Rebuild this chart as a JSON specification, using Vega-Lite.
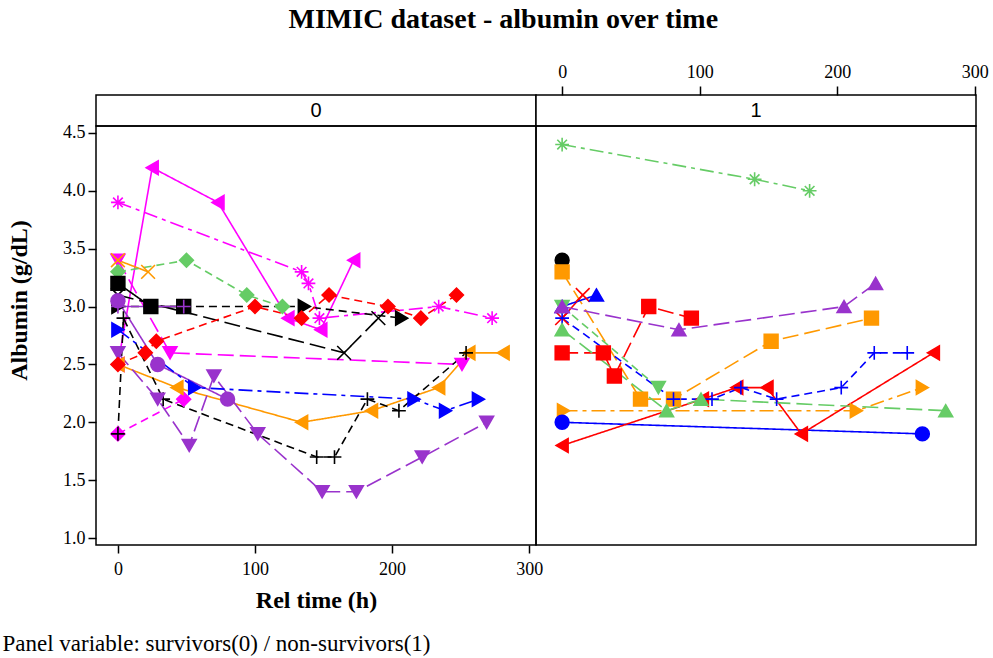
{
  "$schema": "https://vega.github.io/schema/vega-lite/v6.json",
  "background": "white",
  "padding": {"left": 1, "top": 6, "right": 5, "bottom": 5},
  "title": {"text": "MIMIC dataset - albumin over time", "font": "Liberation Serif", "fontSize": 28, "fontWeight": "bold", "color": "#000", "anchor": "middle", "offset": 28, "dx": 8},
  "datasets": {
    "panels": [{"p": "0"}, {"p": "1"}],
    "d": [
      {"p":"0","id":"s01","t":0,"alb":2.5},{"p":"0","id":"s01","t":25,"alb":4.2},{"p":"0","id":"s01","t":73,"alb":3.9},{"p":"0","id":"s01","t":124,"alb":2.9},{"p":"0","id":"s01","t":148,"alb":2.8},{"p":"0","id":"s01","t":172,"alb":3.4},
      {"p":"0","id":"s02","t":0,"alb":3.4},{"p":"0","id":"s02","t":38,"alb":2.6},{"p":"0","id":"s02","t":251,"alb":2.5},
      {"p":"0","id":"s03","t":0,"alb":3.9},{"p":"0","id":"s03","t":134,"alb":3.3},{"p":"0","id":"s03","t":139,"alb":3.2},{"p":"0","id":"s03","t":147,"alb":2.9},{"p":"0","id":"s03","t":234,"alb":3.0},{"p":"0","id":"s03","t":273,"alb":2.9},
      {"p":"0","id":"s04","t":0,"alb":1.9},{"p":"0","id":"s04","t":48,"alb":2.2},
      {"p":"0","id":"s05","t":0,"alb":2.5},{"p":"0","id":"s05","t":43,"alb":2.3},{"p":"0","id":"s05","t":134,"alb":2.0},{"p":"0","id":"s05","t":185,"alb":2.1},{"p":"0","id":"s05","t":234,"alb":2.3},{"p":"0","id":"s05","t":256,"alb":2.6},{"p":"0","id":"s05","t":281,"alb":2.6},
      {"p":"0","id":"s06","t":0,"alb":3.4},{"p":"0","id":"s06","t":22,"alb":3.3},
      {"p":"0","id":"s07","t":0,"alb":3.3},{"p":"0","id":"s07","t":50,"alb":3.4},{"p":"0","id":"s07","t":94,"alb":3.1},{"p":"0","id":"s07","t":120,"alb":3.0},
      {"p":"0","id":"s08","t":0,"alb":3.2},{"p":"0","id":"s08","t":24,"alb":3.0},{"p":"0","id":"s08","t":48,"alb":3.0},
      {"p":"0","id":"s09","t":0,"alb":3.1},{"p":"0","id":"s09","t":165,"alb":2.6},{"p":"0","id":"s09","t":190,"alb":2.9},
      {"p":"0","id":"s10","t":0,"alb":3.0},{"p":"0","id":"s10","t":136,"alb":3.0},{"p":"0","id":"s10","t":207,"alb":2.9},
      {"p":"0","id":"s11","t":0,"alb":1.9},{"p":"0","id":"s11","t":4,"alb":2.9},{"p":"0","id":"s11","t":33,"alb":2.2},{"p":"0","id":"s11","t":145,"alb":1.7},{"p":"0","id":"s11","t":158,"alb":1.7},{"p":"0","id":"s11","t":182,"alb":2.2},{"p":"0","id":"s11","t":205,"alb":2.1},{"p":"0","id":"s11","t":254,"alb":2.6},
      {"p":"0","id":"s12","t":0,"alb":2.6},{"p":"0","id":"s12","t":29,"alb":2.2},{"p":"0","id":"s12","t":52,"alb":1.8},{"p":"0","id":"s12","t":70,"alb":2.4},{"p":"0","id":"s12","t":102,"alb":1.9},{"p":"0","id":"s12","t":149,"alb":1.4},{"p":"0","id":"s12","t":174,"alb":1.4},{"p":"0","id":"s12","t":222,"alb":1.7},{"p":"0","id":"s12","t":269,"alb":2.0},
      {"p":"0","id":"s13","t":0,"alb":3.05},{"p":"0","id":"s13","t":29,"alb":2.5},{"p":"0","id":"s13","t":80,"alb":2.2},
      {"p":"0","id":"s14","t":0,"alb":3.0},{"p":"0","id":"s14","t":48,"alb":3.0},
      {"p":"0","id":"s15","t":0,"alb":2.8},{"p":"0","id":"s15","t":56,"alb":2.3},{"p":"0","id":"s15","t":216,"alb":2.2},{"p":"0","id":"s15","t":239,"alb":2.1},{"p":"0","id":"s15","t":263,"alb":2.2},
      {"p":"0","id":"s16","t":0,"alb":2.5},{"p":"0","id":"s16","t":20,"alb":2.6},{"p":"0","id":"s16","t":28,"alb":2.7},{"p":"0","id":"s16","t":100,"alb":3.0},{"p":"0","id":"s16","t":134,"alb":2.9},{"p":"0","id":"s16","t":154,"alb":3.1},{"p":"0","id":"s16","t":197,"alb":3.0},{"p":"0","id":"s16","t":221,"alb":2.9},{"p":"0","id":"s16","t":247,"alb":3.1},
      {"p":"1","id":"t01","t":0,"alb":4.4},{"p":"1","id":"t01","t":140,"alb":4.1},{"p":"1","id":"t01","t":180,"alb":4.0},
      {"p":"1","id":"t02","t":0,"alb":3.4},
      {"p":"1","id":"t03","t":0,"alb":3.3},{"p":"1","id":"t03","t":57,"alb":2.2},{"p":"1","id":"t03","t":81,"alb":2.2},{"p":"1","id":"t03","t":152,"alb":2.7},{"p":"1","id":"t03","t":225,"alb":2.9},
      {"p":"1","id":"t04","t":1,"alb":2.1},{"p":"1","id":"t04","t":214,"alb":2.1},{"p":"1","id":"t04","t":262,"alb":2.3},
      {"p":"1","id":"t05","t":0,"alb":2.0},{"p":"1","id":"t05","t":262,"alb":1.9},
      {"p":"1","id":"t06","t":0,"alb":1.8},{"p":"1","id":"t06","t":102,"alb":2.2},{"p":"1","id":"t06","t":127,"alb":2.3},{"p":"1","id":"t06","t":149,"alb":2.3},{"p":"1","id":"t06","t":174,"alb":1.9},{"p":"1","id":"t06","t":270,"alb":2.6},
      {"p":"1","id":"t07","t":0,"alb":2.9},{"p":"1","id":"t07","t":15,"alb":3.1},
      {"p":"1","id":"t08","t":0,"alb":2.6},{"p":"1","id":"t08","t":30,"alb":2.6},{"p":"1","id":"t08","t":38,"alb":2.4},{"p":"1","id":"t08","t":63,"alb":3.0},{"p":"1","id":"t08","t":94,"alb":2.9},
      {"p":"1","id":"t09","t":0,"alb":3.0},{"p":"1","id":"t09","t":25,"alb":3.1},
      {"p":"1","id":"t10","t":0,"alb":2.9},{"p":"1","id":"t10","t":81,"alb":2.2},{"p":"1","id":"t10","t":109,"alb":2.2},{"p":"1","id":"t10","t":130,"alb":2.3},{"p":"1","id":"t10","t":156,"alb":2.2},{"p":"1","id":"t10","t":203,"alb":2.3},{"p":"1","id":"t10","t":227,"alb":2.6},{"p":"1","id":"t10","t":251,"alb":2.6},
      {"p":"1","id":"t11","t":0,"alb":3.0},{"p":"1","id":"t11","t":70,"alb":2.3},
      {"p":"1","id":"t12","t":0,"alb":2.8},{"p":"1","id":"t12","t":76,"alb":2.1},{"p":"1","id":"t12","t":101,"alb":2.2},{"p":"1","id":"t12","t":279,"alb":2.1},
      {"p":"1","id":"t13","t":0,"alb":3.0},{"p":"1","id":"t13","t":85,"alb":2.8},{"p":"1","id":"t13","t":205,"alb":3.0},{"p":"1","id":"t13","t":228,"alb":3.2}
    ]
  },
  "columns": 2,
  "spacing": 0,
  "align": "each",
  "bounds": "flush",
  "concat": [
    {
      "width": 440, "height": 31,
      "view": {"stroke": "#000", "strokeWidth": 1.5, "fill": "white"},
      "data": {"name": "panels"},
      "transform": [{"filter": "datum.p == '0'"}],
      "mark": {"type": "text", "font": "Liberation Sans", "fontSize": 20, "color": "#000", "baseline": "middle"},
      "encoding": {"text": {"field": "p"}}
    },
    {
      "width": 440, "height": 31,
      "view": {"stroke": "#000", "strokeWidth": 1.5, "fill": "white"},
      "data": {"name": "panels"},
      "transform": [{"filter": "datum.p == '1'"}],
      "mark": {"type": "text", "font": "Liberation Sans", "fontSize": 20, "color": "#000", "baseline": "middle"},
      "encoding": {"text": {"field": "p"}}
    },
    {
      "width": 440, "height": 419,
      "title": {"text": "Panel variable: survivors(0) / non-survivors(1)", "orient": "bottom", "anchor": "start", "frame": "bounds", "font": "Liberation Serif", "fontSize": 23, "fontWeight": "normal", "color": "#000", "offset": 21, "dx": -5},
      "data": {"name": "d"},
      "transform": [{"filter": "datum.p == '0'"}],
      "encoding": {
        "x": {"field": "t", "type": "quantitative", "scale": {"domain": [-16, 305], "nice": false, "zero": false}, "axis": {"orient": "bottom", "values": [0, 100, 200, 300], "title": "Rel time (h)", "labelPadding": 7, "titlePadding": 10, "titleFontSize": 24}},
        "y": {"field": "alb", "type": "quantitative", "scale": {"domain": [0.94, 4.56], "nice": false, "zero": false}, "axis": {"values": [1, 1.5, 2, 2.5, 3, 3.5, 4, 4.5], "format": ".1f", "title": "Albumin (g/dL)", "titlePadding": 31, "titleFontSize": 24, "titleY": 174}}
      },
      "layer": [
        {
          "mark": {"type": "line", "strokeWidth": 1.6},
          "encoding": {
            "color": {"field": "id", "type": "nominal", "legend": null, "scale": {"domain": ["s01","s02","s03","s04","s05","s06","s07","s08","s09","s10","s11","s12","s13","s14","s15","s16","t01","t02","t03","t04","t05","t06","t07","t08","t09","t10","t11","t12","t13"], "range": ["#FF00FF","#FF00FF","#FF00FF","#FF00FF","#FF9900","#FF9900","#66CC66","#000000","#000000","#000000","#000000","#9933CC","#9933CC","#9933CC","#0000FF","#FF0000","#66CC66","#000000","#FF9900","#FF9900","#0000FF","#FF0000","#FF0000","#FF0000","#0000FF","#0000FF","#66CC66","#66CC66","#9933CC"]}},
            "strokeDash": {"field": "id", "type": "nominal", "legend": null, "scale": {"domain": ["s01","s02","s03","s04","s05","s06","s07","s08","s09","s10","s11","s12","s13","s14","s15","s16","t01","t02","t03","t04","t05","t06","t07","t08","t09","t10","t11","t12","t13"], "range": [[1,0],[16,6],[14,5,4,5],[8,5],[1,0],[1,0],[8,5],[1,0],[16,6],[8,5],[8,5],[16,6],[1,0],[1,0],[14,5,4,5],[8,5],[14,5,4,5],[1,0],[16,6],[14,5,4,5],[1,0],[1,0],[1,0],[16,6],[1,0],[8,5],[8,5],[16,6],[16,6]]}}
          }
        },
        {
          "mark": {"type": "point", "size": 190, "strokeWidth": 1.6, "opacity": 1},
          "encoding": {
            "fill": {"field": "id", "type": "nominal", "legend": null, "scale": {"domain": ["s01","s02","s03","s04","s05","s06","s07","s08","s09","s10","s11","s12","s13","s14","s15","s16","t01","t02","t03","t04","t05","t06","t07","t08","t09","t10","t11","t12","t13"], "range": ["#FF00FF","#FF00FF","#FF00FF","#FF00FF","#FF9900","#FF9900","#66CC66","#000000","#000000","#000000","#000000","#9933CC","#9933CC","#9933CC","#0000FF","#FF0000","#66CC66","#000000","#FF9900","#FF9900","#0000FF","#FF0000","#FF0000","#FF0000","#0000FF","#0000FF","#66CC66","#66CC66","#9933CC"]}},
            "stroke": {"field": "id", "type": "nominal", "legend": null, "scale": {"domain": ["s01","s02","s03","s04","s05","s06","s07","s08","s09","s10","s11","s12","s13","s14","s15","s16","t01","t02","t03","t04","t05","t06","t07","t08","t09","t10","t11","t12","t13"], "range": ["#FF00FF","#FF00FF","#FF00FF","#FF00FF","#FF9900","#FF9900","#66CC66","#000000","#000000","#000000","#000000","#9933CC","#9933CC","#9933CC","#0000FF","#FF0000","#66CC66","#000000","#FF9900","#FF9900","#0000FF","#FF0000","#FF0000","#FF0000","#0000FF","#0000FF","#66CC66","#66CC66","#9933CC"]}},
            "shape": {"field": "id", "type": "nominal", "legend": null, "scale": {"domain": ["s01","s02","s03","s04","s05","s06","s07","s08","s09","s10","s11","s12","s13","s14","s15","s16","t01","t02","t03","t04","t05","t06","t07","t08","t09","t10","t11","t12","t13"], "range": ["triangle-left","triangle-down","M-1,0L1,0M0,-1L0,1M-0.7,-0.7L0.7,0.7M-0.7,0.7L0.7,-0.7","diamond","triangle-left","M-1,-1L1,1M-1,1L1,-1","diamond","square","M-1,-1L1,1M-1,1L1,-1","triangle-right","M-1,0L1,0M0,-1L0,1","triangle-down","circle","M-1,0L1,0M0,-1L0,1","triangle-right","diamond","M-1,0L1,0M0,-1L0,1M-0.7,-0.7L0.7,0.7M-0.7,0.7L0.7,-0.7","circle","square","triangle-right","circle","triangle-left","M-1,-1L1,1M-1,1L1,-1","square","triangle-up","M-1,0L1,0M0,-1L0,1","triangle-down","triangle-up","triangle-up"]}}
          }
        }
      ]
    },
    {
      "width": 440, "height": 419,
      "data": {"name": "d"},
      "transform": [{"filter": "datum.p == '1'"}],
      "encoding": {
        "x": {"field": "t", "type": "quantitative", "scale": {"domain": [-19, 301], "nice": false, "zero": false}, "axis": {"orient": "top", "offset": 31, "values": [0, 100, 200, 300], "title": null, "tickSize": 9, "labelPadding": 5}},
        "y": {"field": "alb", "type": "quantitative", "scale": {"domain": [0.94, 4.56], "nice": false, "zero": false}, "axis": null}
      },
      "layer": [
        {
          "mark": {"type": "line", "strokeWidth": 1.6},
          "encoding": {
            "color": {"field": "id", "type": "nominal", "legend": null, "scale": {"domain": ["s01","s02","s03","s04","s05","s06","s07","s08","s09","s10","s11","s12","s13","s14","s15","s16","t01","t02","t03","t04","t05","t06","t07","t08","t09","t10","t11","t12","t13"], "range": ["#FF00FF","#FF00FF","#FF00FF","#FF00FF","#FF9900","#FF9900","#66CC66","#000000","#000000","#000000","#000000","#9933CC","#9933CC","#9933CC","#0000FF","#FF0000","#66CC66","#000000","#FF9900","#FF9900","#0000FF","#FF0000","#FF0000","#FF0000","#0000FF","#0000FF","#66CC66","#66CC66","#9933CC"]}},
            "strokeDash": {"field": "id", "type": "nominal", "legend": null, "scale": {"domain": ["s01","s02","s03","s04","s05","s06","s07","s08","s09","s10","s11","s12","s13","s14","s15","s16","t01","t02","t03","t04","t05","t06","t07","t08","t09","t10","t11","t12","t13"], "range": [[1,0],[16,6],[14,5,4,5],[8,5],[1,0],[1,0],[8,5],[1,0],[16,6],[8,5],[8,5],[16,6],[1,0],[1,0],[14,5,4,5],[8,5],[14,5,4,5],[1,0],[16,6],[14,5,4,5],[1,0],[1,0],[1,0],[16,6],[1,0],[8,5],[8,5],[16,6],[16,6]]}}
          }
        },
        {
          "mark": {"type": "point", "size": 190, "strokeWidth": 1.6, "opacity": 1},
          "encoding": {
            "fill": {"field": "id", "type": "nominal", "legend": null, "scale": {"domain": ["s01","s02","s03","s04","s05","s06","s07","s08","s09","s10","s11","s12","s13","s14","s15","s16","t01","t02","t03","t04","t05","t06","t07","t08","t09","t10","t11","t12","t13"], "range": ["#FF00FF","#FF00FF","#FF00FF","#FF00FF","#FF9900","#FF9900","#66CC66","#000000","#000000","#000000","#000000","#9933CC","#9933CC","#9933CC","#0000FF","#FF0000","#66CC66","#000000","#FF9900","#FF9900","#0000FF","#FF0000","#FF0000","#FF0000","#0000FF","#0000FF","#66CC66","#66CC66","#9933CC"]}},
            "stroke": {"field": "id", "type": "nominal", "legend": null, "scale": {"domain": ["s01","s02","s03","s04","s05","s06","s07","s08","s09","s10","s11","s12","s13","s14","s15","s16","t01","t02","t03","t04","t05","t06","t07","t08","t09","t10","t11","t12","t13"], "range": ["#FF00FF","#FF00FF","#FF00FF","#FF00FF","#FF9900","#FF9900","#66CC66","#000000","#000000","#000000","#000000","#9933CC","#9933CC","#9933CC","#0000FF","#FF0000","#66CC66","#000000","#FF9900","#FF9900","#0000FF","#FF0000","#FF0000","#FF0000","#0000FF","#0000FF","#66CC66","#66CC66","#9933CC"]}},
            "shape": {"field": "id", "type": "nominal", "legend": null, "scale": {"domain": ["s01","s02","s03","s04","s05","s06","s07","s08","s09","s10","s11","s12","s13","s14","s15","s16","t01","t02","t03","t04","t05","t06","t07","t08","t09","t10","t11","t12","t13"], "range": ["triangle-left","triangle-down","M-1,0L1,0M0,-1L0,1M-0.7,-0.7L0.7,0.7M-0.7,0.7L0.7,-0.7","diamond","triangle-left","M-1,-1L1,1M-1,1L1,-1","diamond","square","M-1,-1L1,1M-1,1L1,-1","triangle-right","M-1,0L1,0M0,-1L0,1","triangle-down","circle","M-1,0L1,0M0,-1L0,1","triangle-right","diamond","M-1,0L1,0M0,-1L0,1M-0.7,-0.7L0.7,0.7M-0.7,0.7L0.7,-0.7","circle","square","triangle-right","circle","triangle-left","M-1,-1L1,1M-1,1L1,-1","square","triangle-up","M-1,0L1,0M0,-1L0,1","triangle-down","triangle-up","triangle-up"]}}
          }
        }
      ]
    }
  ],
  "config": {
    "font": "Liberation Serif",
    "view": {"stroke": "#000", "strokeWidth": 1.5},
    "axis": {"labelFont": "Liberation Serif", "labelFontSize": 18, "labelColor": "#000", "titleFont": "Liberation Serif", "titleFontSize": 18, "titleFontWeight": "bold", "titleColor": "#000", "tickColor": "#000", "tickSize": 8, "tickWidth": 1.5, "domain": false, "grid": false, "labelPadding": 3}
  }
}
